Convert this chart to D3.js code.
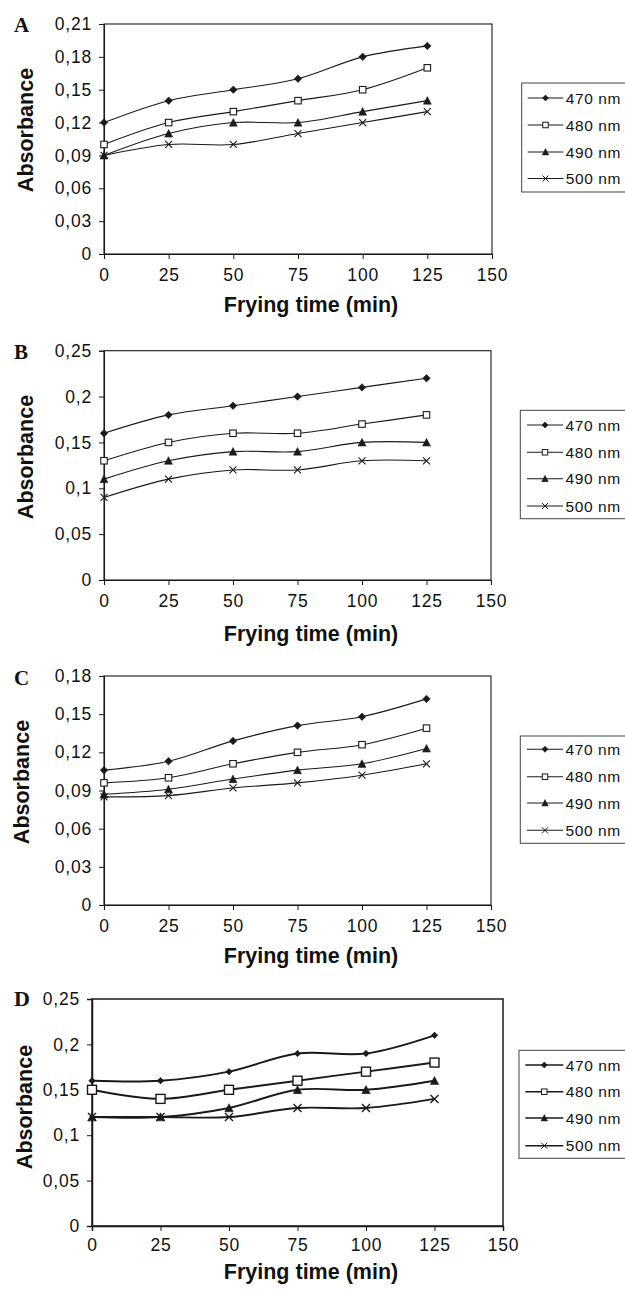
<!DOCTYPE html>
<html>
<head>
<meta charset="utf-8">
<script src="https://cdn.jsdelivr.net/npm/d3@7"></script>
<style>
  html, body { margin: 0; padding: 0; background: #fff; }
  svg { display: block; }
  text { font-family: "Liberation Sans", Arial, sans-serif; fill: #111; }
  text.letter { font-family: "Liberation Serif", "Times New Roman", serif; }
</style>
</head>
<body>
<svg id="chart" width="625" height="1290"></svg>
<script>
// ---------- DATA ----------
const frying_time = [0, 25, 50, 75, 100, 125];
const wavelengths = ["470 nm", "480 nm", "490 nm", "500 nm"];
const x_ticks = [0, 25, 50, 75, 100, 125, 150];

const panel_letters = ["A", "B", "C", "D"];

const A_470 = [0.12, 0.14, 0.15, 0.16, 0.18, 0.19];
const A_480 = [0.10, 0.12, 0.13, 0.14, 0.15, 0.17];
const A_490 = [0.09, 0.11, 0.12, 0.12, 0.13, 0.14];
const A_500 = [0.09, 0.10, 0.10, 0.11, 0.12, 0.13];
const A_yticks = [0, 0.03, 0.06, 0.09, 0.12, 0.15, 0.18, 0.21];

const B_470 = [0.16, 0.18, 0.19, 0.20, 0.21, 0.22];
const B_480 = [0.13, 0.15, 0.16, 0.16, 0.17, 0.18];
const B_490 = [0.11, 0.13, 0.14, 0.14, 0.15, 0.15];
const B_500 = [0.09, 0.11, 0.12, 0.12, 0.13, 0.13];
const B_yticks = [0, 0.05, 0.10, 0.15, 0.20, 0.25];

const C_470 = [0.106, 0.113, 0.129, 0.141, 0.148, 0.162];
const C_480 = [0.096, 0.100, 0.111, 0.120, 0.126, 0.139];
const C_490 = [0.087, 0.091, 0.099, 0.106, 0.111, 0.123];
const C_500 = [0.085, 0.086, 0.092, 0.096, 0.102, 0.111];
const C_yticks = [0, 0.03, 0.06, 0.09, 0.12, 0.15, 0.18];

const D_470 = [0.16, 0.16, 0.17, 0.19, 0.19, 0.21];
const D_480 = [0.15, 0.14, 0.15, 0.16, 0.17, 0.18];
const D_490 = [0.12, 0.12, 0.13, 0.15, 0.15, 0.16];
const D_500 = [0.12, 0.12, 0.12, 0.13, 0.13, 0.14];
const D_yticks = [0, 0.05, 0.10, 0.15, 0.20, 0.25];

// ---------- LAYOUT (positions only) ----------
const panels = [
  { letter: panel_letters[0], series: [A_470, A_480, A_490, A_500], yticks: A_yticks,
    L: 104, R: 492, T: 24, B: 254, letterY: 32, letterSize: 21,
    titleY: 312, absY: 130, absX: 33,
    legX: 521.7, legY: 83, legH: 109, rows: [98, 125, 152, 178.5], legLine: [527.7, 563.3],
    lw: 1.1, big: false },
  { letter: panel_letters[1], series: [B_470, B_480, B_490, B_500], yticks: B_yticks,
    L: 104, R: 491, T: 350.7, B: 580, letterY: 359, letterSize: 21,
    titleY: 641, absY: 457, absX: 33,
    legX: 520.3, legY: 410.3, legH: 108.4, rows: [425, 452.3, 478.7, 506], legLine: [527, 563],
    lw: 1.1, big: false },
  { letter: panel_letters[2], series: [C_470, C_480, C_490, C_500], yticks: C_yticks,
    L: 104, R: 491, T: 676, B: 905, letterY: 685, letterSize: 21,
    titleY: 962.5, absY: 782, absX: 28.5,
    legX: 520.3, legY: 736, legH: 107.3, rows: [749.3, 776.7, 803, 830.3], legLine: [527, 563],
    lw: 1.1, big: false },
  { letter: panel_letters[3], series: [D_470, D_480, D_490, D_500], yticks: D_yticks,
    L: 92, R: 503, T: 999, B: 1226, letterY: 1006, letterSize: 22,
    titleY: 1279, absY: 1107, absX: 31.5,
    legX: 519, legY: 1050.3, legH: 108, rows: [1065, 1091.7, 1118, 1145.7], legLine: [525.3, 563.3],
    lw: 1.9, big: true }
];

const svg = d3.select("#chart");
const fmt = v => v === 0 ? "0" : String(+v.toFixed(2)).replace(".", ",");
const ink = "#1a1a1a";

function drawMarker(g, type, x, y, s, sw) {
  if (type === 0) { // diamond
    g.append("path")
      .attr("d", `M${x},${y - s / 2}L${x + s / 2},${y}L${x},${y + s / 2}L${x - s / 2},${y}Z`)
      .attr("fill", ink).attr("stroke", ink).attr("stroke-width", 0.6);
  } else if (type === 1) { // open square
    g.append("rect")
      .attr("x", x - s / 2).attr("y", y - s / 2).attr("width", s).attr("height", s)
      .attr("fill", "#fff").attr("stroke", ink).attr("stroke-width", sw);
  } else if (type === 2) { // triangle
    const h = s * 0.9;
    g.append("path")
      .attr("d", `M${x},${y - h / 2 - 0.5}L${x + s / 2},${y + h / 2}L${x - s / 2},${y + h / 2}Z`)
      .attr("fill", ink).attr("stroke", ink).attr("stroke-width", 0.5);
  } else { // x cross
    const r = s / 2;
    g.append("path")
      .attr("d", `M${x - r},${y - r}L${x + r},${y + r}M${x - r},${y + r}L${x + r},${y - r}`)
      .attr("fill", "none").attr("stroke", ink).attr("stroke-width", sw);
  }
}

panels.forEach(p => {
  const g = svg.append("g");
  const x = d3.scaleLinear().domain([0, 150]).range([p.L, p.R]);
  const yMax = p.yticks[p.yticks.length - 1];
  const y = d3.scaleLinear().domain([0, yMax]).range([p.B, p.T]);

  // frame
  g.append("rect")
    .attr("x", p.L).attr("y", p.T).attr("width", p.R - p.L).attr("height", p.B - p.T)
    .attr("fill", "none").attr("stroke", ink).attr("stroke-width", p.big ? 1.5 : 1.1);

  // y axis
  const yAxis = g.append("g").attr("transform", `translate(${p.L},0)`)
    .call(d3.axisLeft(y).tickValues(p.yticks).tickFormat(fmt).tickSize(5).tickPadding(7));
  yAxis.select(".domain").attr("stroke", ink).attr("stroke-width", p.big ? 1.5 : 1.1);
  yAxis.selectAll(".tick line").attr("stroke", ink);
  yAxis.selectAll("text").style("font-size", "17.5px").style("letter-spacing", "0.8px").attr("fill", "#111");

  // x axis
  const xAxis = g.append("g").attr("transform", `translate(0,${p.B})`)
    .call(d3.axisBottom(x).tickValues(x_ticks).tickFormat(d3.format("d")).tickSize(5).tickPadding(p.big ? 8 : 10));
  xAxis.select(".domain").attr("stroke", ink).attr("stroke-width", p.big ? 1.5 : 1.1);
  xAxis.selectAll(".tick line").attr("stroke", ink);
  xAxis.selectAll("text").style("font-size", "17.5px").style("letter-spacing", "0.8px").attr("fill", "#111");

  // panel letter
  g.append("text").attr("class", "letter").attr("x", 14).attr("y", p.letterY)
    .style("font-weight", "bold").style("font-size", p.letterSize + "px").text(p.letter);

  // axis titles
  g.append("text").attr("x", 311).attr("y", p.titleY).attr("text-anchor", "middle")
    .style("font-weight", "bold").style("font-size", "21.5px").text("Frying time (min)");
  g.append("text").attr("transform", `translate(${p.absX},${p.absY}) rotate(-90)`)
    .attr("text-anchor", "middle").style("font-weight", "bold").style("font-size", "21.5px")
    .text("Absorbance");

  // lines
  const line = d3.line().x((d, i) => x(frying_time[i])).y(d => y(d))
    .curve(d3.curveCatmullRom.alpha(0.5));
  p.series.forEach((s, k) => {
    g.append("path").datum(s).attr("d", line)
      .attr("fill", "none").attr("stroke", ink).attr("stroke-width", p.lw);
  });
  // markers
  const msz = p.big ? [6.5, 9, 8.5, 8] : [7.5, 6.5, 8, 7];
  p.series.forEach((s, k) => {
    s.forEach((v, i) => drawMarker(g, k, x(frying_time[i]), y(v), msz[k], p.big ? 1.4 : 1.1));
  });

  // legend
  g.append("rect").attr("x", p.legX).attr("y", p.legY).attr("width", 120).attr("height", p.legH)
    .attr("fill", "#fff").attr("stroke", "#444").attr("stroke-width", 1);
  wavelengths.forEach((name, k) => {
    const ry = p.rows[k];
    g.append("line").attr("x1", p.legLine[0]).attr("x2", p.legLine[1])
      .attr("y1", ry).attr("y2", ry).attr("stroke", ink).attr("stroke-width", p.big ? 1.4 : 1.1);
    const lsz = [6, 5.5, 6.5, 6][k];
    drawMarker(g, k, (p.legLine[0] + p.legLine[1]) / 2, ry, lsz, 1);
    g.append("text").attr("x", p.legLine[1] + 2.5).attr("y", ry).attr("dy", "0.36em")
      .style("font-size", "15.5px").style("letter-spacing", "0.6px").text(name);
  });
});
</script>
</body>
</html>
